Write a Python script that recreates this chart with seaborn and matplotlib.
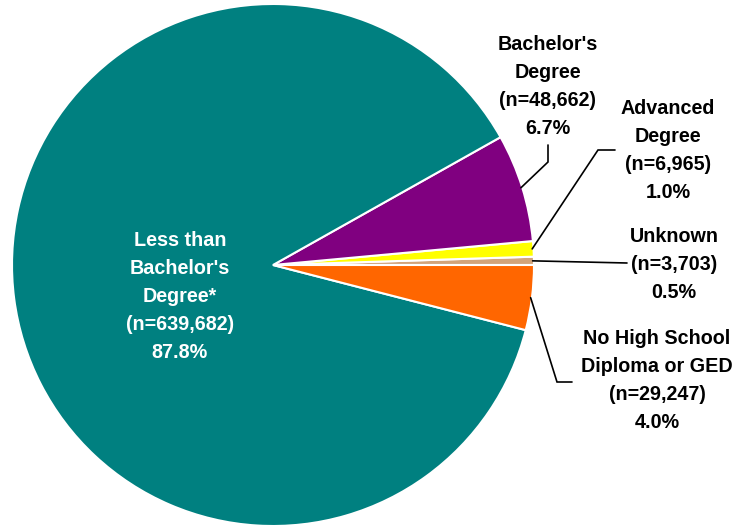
import numpy as np
import matplotlib
matplotlib.use("Agg")
import matplotlib.pyplot as plt
import seaborn as sns

# Education level of the population, counts per category (pie order, counter-clockwise from 0°)
categories = ["Unknown", "Advanced\nDegree", "Bachelor's\nDegree",
              "Less than\nBachelor's\nDegree*", "No High School\nDiploma or GED"]
counts = [3703, 6965, 48662, 639682, 29247]
colors = ["#D2A47A", "#FFFF00", "#800080", "#008080", "#FF6600"]

sns.set_theme(style="white")
plt.rcParams["font.family"] = ["Liberation Sans", "DejaVu Sans"]

W, H = 739, 527
fig = plt.figure(figsize=(W / 100, H / 100), dpi=100)
ax = fig.add_axes([0, 0, 1, 1])

cx, cy, R = 273, H - 265, 261
wedges, _ = ax.pie(counts, colors=colors, startangle=0, counterclock=True,
                   center=(cx, cy), radius=R,
                   wedgeprops=dict(edgecolor="white", linewidth=1.5))
ax.set_xlim(0, W)
ax.set_ylim(0, H)
ax.set_aspect("equal")
ax.axis("off")

total = sum(counts)
labels = [f"{c}\n(n={n:,})\n{n / total * 100:.1f}%" for c, n in zip(categories, counts)]

font = dict(fontsize=14.2, fontweight="bold", ha="center", va="center",
            multialignment="center", linespacing=1.6)

# text centres (in pixels, y from top) and leader-line elbows
text_pos = [(674, 264), (668, 150), (548, 87), (180, 296), (657, 381)]
elbows = [
    [(627, 263)],
    [(598, 150), (615, 150)],
    [(548, 162), (548, 145)],
    None,
    [(557, 382), (572, 382)],
]

for i, (w, lab, (tx, ty)) in enumerate(zip(wedges, labels, text_pos)):
    color = "white" if i == 3 else "black"
    ax.text(tx, H - ty, lab, color=color, **font)
    if elbows[i] is None:
        continue
    mid = np.deg2rad((w.theta1 + w.theta2) / 2)
    ax_pt = (cx + R * 0.995 * np.cos(mid), cy + R * 0.995 * np.sin(mid))
    xs = [ax_pt[0]] + [p[0] for p in elbows[i]]
    ys = [ax_pt[1]] + [H - p[1] for p in elbows[i]]
    ax.plot(xs, ys, color="black", linewidth=1.2, solid_joinstyle="miter")

fig.savefig("out.png", dpi=100)
